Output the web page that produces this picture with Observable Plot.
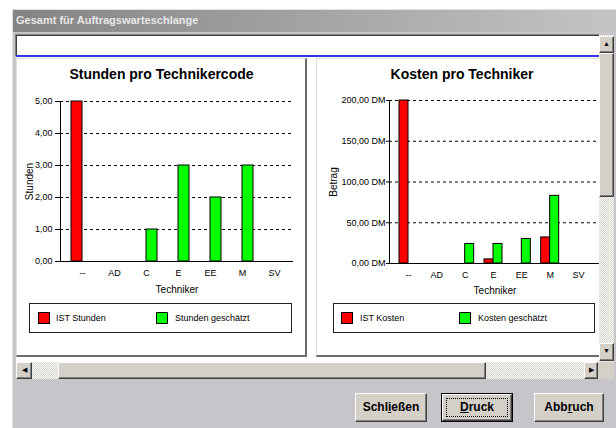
<!DOCTYPE html>
<html><head><meta charset="utf-8">
<script src="https://cdn.jsdelivr.net/npm/d3@7"></script>
<script src="https://cdn.jsdelivr.net/npm/@observablehq/plot@0.6"></script>
<style>
body{margin:0;background:#fff;width:616px;height:428px;overflow:hidden;position:relative;font-family:"Liberation Sans",Arial,sans-serif;}
.a{position:absolute;box-sizing:border-box;}
.raised{background:#d4d0c8;border:1px solid;border-color:#fff #404040 #404040 #fff;box-shadow:inset -1px -1px 0 #808080;}
.hatch{background:repeating-conic-gradient(#d4d0c8 0 25%,#ffffff 0 50%) 0 0/2px 2px;}
.panel{background:#fff;border-left:1px solid #dcdcdc;border-top:1px solid #dcdcdc;border-right:2px solid #6c6c6c;border-bottom:2px solid #6c6c6c;}
.title{font-weight:bold;font-size:14px;text-align:center;color:#000;}
.legend{border:1px solid #202020;background:#fff;}
.sw{width:12px;height:12px;border:1px solid #000;}
.lt{font-size:9px;color:#000;line-height:12px;}
.btn{font-weight:bold;font-size:12px;text-align:center;line-height:26px;color:#000;}
.arr{font-size:7px;line-height:14px;text-align:center;color:#000;}
g[aria-label$="axis label"]{font-size:10px;}
</style></head>
<body>
<div class="a" style="left:12px;top:9px;width:604px;height:419px;background:#c6c6ca;border-left:1px solid #e0e0e0;border-top:1px solid #e0e0e0;"></div>
<div class="a" style="left:13px;top:10px;width:603px;height:22px;background:linear-gradient(to right,#848484,#c4c4c4);color:#e6e6e6;font-weight:bold;font-size:11px;line-height:21px;padding-left:3px;">Gesamt für Auftragswarteschlange</div>
<div class="a" style="left:15px;top:34px;width:584px;height:22px;background:#fff;border-top:1px solid #808080;border-left:1px solid #808080;box-shadow:inset 1px 1px 0 #404040;"></div>
<div class="a" style="left:16px;top:55px;width:583px;height:307px;background:#fff;"></div>
<div class="a" style="left:16px;top:55px;width:583px;height:2px;background:#3434e6;"></div>
<div class="a panel" style="left:16px;top:58px;width:291px;height:299px;"></div>
<div class="a panel" style="left:316px;top:58px;width:292px;height:299px;"></div>
<div class="a title" style="left:16px;top:66px;width:291px;">Stunden pro Technikercode</div>
<div class="a title" style="left:316px;top:66px;width:292px;">Kosten pro Techniker</div>
<div id="c1" class="a" style="left:16px;top:58px;"></div>
<div id="c2" class="a" style="left:316px;top:58px;"></div>
<div class="a legend" style="left:29px;top:303px;width:263px;height:30px;"></div>
<div class="a sw" style="left:38px;top:312px;background:#ff0000;"></div>
<div class="a lt" style="left:56px;top:312px;">IST Stunden</div>
<div class="a sw" style="left:156px;top:312px;background:#00ff00;"></div>
<div class="a lt" style="left:175px;top:312px;">Stunden geschätzt</div>
<div class="a legend" style="left:333px;top:303px;width:262px;height:30px;"></div>
<div class="a sw" style="left:341px;top:312px;background:#ff0000;"></div>
<div class="a lt" style="left:360px;top:312px;">IST Kosten</div>
<div class="a sw" style="left:459px;top:312px;background:#00ff00;"></div>
<div class="a lt" style="left:478px;top:312px;">Kosten geschätzt</div>
<!-- vertical scrollbar -->
<div class="a hatch" style="left:599px;top:35px;width:15px;height:327px;"></div>
<div class="a raised arr" style="left:599px;top:36px;width:15px;height:17px;">▲</div>
<div class="a raised" style="left:599px;top:53px;width:15px;height:144px;"></div>
<div class="a raised arr" style="left:599px;top:343px;width:15px;height:18px;">▼</div>
<!-- horizontal scrollbar -->
<div class="a hatch" style="left:16px;top:362px;width:582px;height:17px;"></div>
<div class="a raised arr" style="left:16px;top:362px;width:16px;height:17px;">◀</div>
<div class="a raised" style="left:58px;top:362px;width:428px;height:17px;"></div>
<div class="a raised arr" style="left:584px;top:362px;width:14px;height:17px;">▶</div>
<div class="a" style="left:598px;top:362px;width:16px;height:17px;background:#d4d0c8;"></div>
<!-- buttons -->
<div class="a raised btn" style="left:355px;top:393px;width:72px;height:29px;">Schl<u>i</u>eßen</div>
<div class="a btn" style="left:441px;top:393px;width:72px;height:29px;border:1px solid #000;background:#d4d0c8;">
  <div class="a raised" style="left:0;top:0;width:70px;height:27px;"></div>
  <div class="a" style="left:4px;top:4px;width:62px;height:19px;border:1px dotted #000;"></div>
  <div class="a" style="left:0;top:0;width:70px;line-height:26px;"><u>D</u>ruck</div>
</div>
<div class="a raised btn" style="left:534px;top:393px;width:70px;height:29px;">Abb<u>r</u>uch</div>

<script>
const techniker = ["--","AD","C","E","EE","M","SV"];
const istStunden = [5,0,0,0,0,0,0];
const stundenGeschaetzt = [0,0,1,3,2,3,0];
const istKosten = [200,0,0,5,0,32,0];
const kostenGeschaetzt = [0,0,24,24,30,83,0];
const stundenTicks = [0,1,2,3,4,5];
const kostenTicks = [0,50,100,150,200];

const rows = vals => techniker.map((t,i)=>({t, v: vals[i]})).filter(d => d.v > 0);
const de = d => d.toFixed(2).replace(".", ",");

function chart(o){
  const bw = (o.width - o.ml - o.mr - o.inL - o.inR) / techniker.length;
  return Plot.plot({
    width:o.width, height:o.height,
    marginTop:o.mt, marginBottom:o.mb, marginLeft:o.ml, marginRight:o.mr,
    style:{fontFamily:'"Liberation Sans",Arial,sans-serif', fontSize:"9px", background:"transparent", color:"#000", overflow:"visible"},
    x:{type:"band", domain:techniker, padding:0, insetLeft:o.inL, insetRight:o.inR, round:false},
    y:{domain:[0, d3.max(o.ticks)], nice:false},
    marks:[
      Plot.ruleY(o.ticks.filter(d=>d>0), {stroke:"#000", strokeDasharray:"3,3"}),
      Plot.barY(rows(o.ist), {x:"t", y:"v", fill:"#ff0000", stroke:"#000", insetLeft:bw/2 - o.barW, insetRight:bw/2}),
      Plot.barY(rows(o.ges), {x:"t", y:"v", fill:"#00ff00", stroke:"#000", insetLeft:bw/2, insetRight:bw/2 - o.barW}),
      Plot.ruleY([0], {stroke:"#000"}),
      Plot.frame({anchor:"left", stroke:"#000"}),
      Plot.axisY({ticks:o.ticks, tickFormat:o.fmt, tickSize:o.ts, tickPadding:o.tp, label:o.ylabel, labelAnchor:"center", labelOffset:o.lo, labelArrow:"none"}),
      Plot.axisX({tickSize:0, tickPadding:8, label:"Techniker", labelAnchor:"center", labelOffset:o.lox, labelArrow:"none"})
    ]
  });
}

document.getElementById("c1").append(chart({
  ist:istStunden, ges:stundenGeschaetzt, ticks:stundenTicks, fmt:de, ylabel:"Stunden",
  width:290, height:240, mt:43, mb:37, ml:44, mr:13, inL:6, inR:3, barW:11, ts:5, tp:3, lo:35, lox:31
}));
document.getElementById("c2").append(chart({
  ist:istKosten, ges:kostenGeschaetzt, ticks:kostenTicks, fmt:d => de(d) + " DM", ylabel:"Betrag",
  width:290, height:240, mt:42, mb:35, ml:73, mr:6, inL:4.83, inR:7.83, barW:9, ts:3, tp:1, lo:60, lox:30
}));
</script>
</body></html>
